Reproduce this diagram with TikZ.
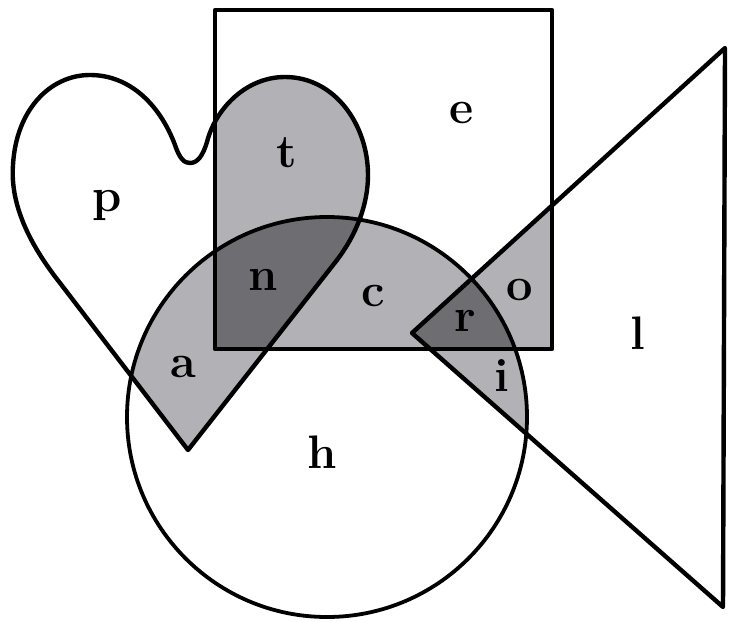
\documentclass[tikz,border=0pt]{standalone}
\usepackage{tikz}
\definecolor{lgry}{RGB}{178,178,182}
\definecolor{dgry}{RGB}{110,110,114}
\tikzset{
  lbl/.style={font=\fontsize{47}{47}\selectfont\bfseries, inner sep=0pt},
  edge/.style={line width=4.4pt, line join=round},
}
% outlines, in pixel units with y pointing down
\def\heartpath{(188,450) -- (60,283) .. controls (30,245) and (10,205) .. (13,165)
  .. controls (16,110) and (50,75) .. (90,75) .. controls (130,75) and (160,105) .. (175,145)
  .. controls (180,160) and (185,163) .. (190,163) .. controls (198,163) and (203,155) .. (207,142)
  .. controls (215,110) and (245,77) .. (285,77) .. controls (335,77) and (368,125) .. (368,175)
  .. controls (368,205) and (356,235) .. (337,260) -- cycle}
\def\sqpath{(215,10) rectangle (552,349)}
\def\circpath{(327,417) circle[radius=200]}
\def\tripath{(412,333) -- (725,48) -- (723,607) -- cycle}

\begin{document}
\begin{tikzpicture}[x=1pt,y=-1pt]
\useasboundingbox (0,0) rectangle (738,621);
% overlaps of two shapes
\begin{scope} \clip \heartpath; \fill[lgry] \sqpath; \fill[lgry] \circpath; \end{scope}
\begin{scope} \clip \circpath; \fill[lgry] \sqpath; \fill[lgry] \tripath; \end{scope}
\begin{scope} \clip \sqpath; \fill[lgry] \tripath; \end{scope}
% overlaps of three shapes
\begin{scope} \clip \heartpath; \clip \sqpath; \fill[dgry] \circpath; \end{scope}
\begin{scope} \clip \tripath; \clip \sqpath; \fill[dgry] \circpath; \end{scope}
% outlines
\draw[edge] \sqpath;
\draw[edge] \heartpath;
\draw[edge] \tripath;
\draw[edge, line width=3.8pt] \circpath;
% region letters
\node[lbl] (p) at (107,205) {p};
\node[lbl] (t) at (287,153) {t};
\node[lbl] (e) at (462,113) {e};
\node[lbl] (n) at (263,280) {n};
\node[lbl] (c) at (373,296) {c};
\node[lbl] (o) at (520,290) {o};
\node[lbl] (r) at (465,321) {r};
\node[lbl] (l) at (638,333) {l};
\node[lbl] (a) at (183,367) {a};
\node[lbl] (i) at (502,376) {i};
\node[lbl] (h) at (322,452) {h};
\end{tikzpicture}
\end{document}
